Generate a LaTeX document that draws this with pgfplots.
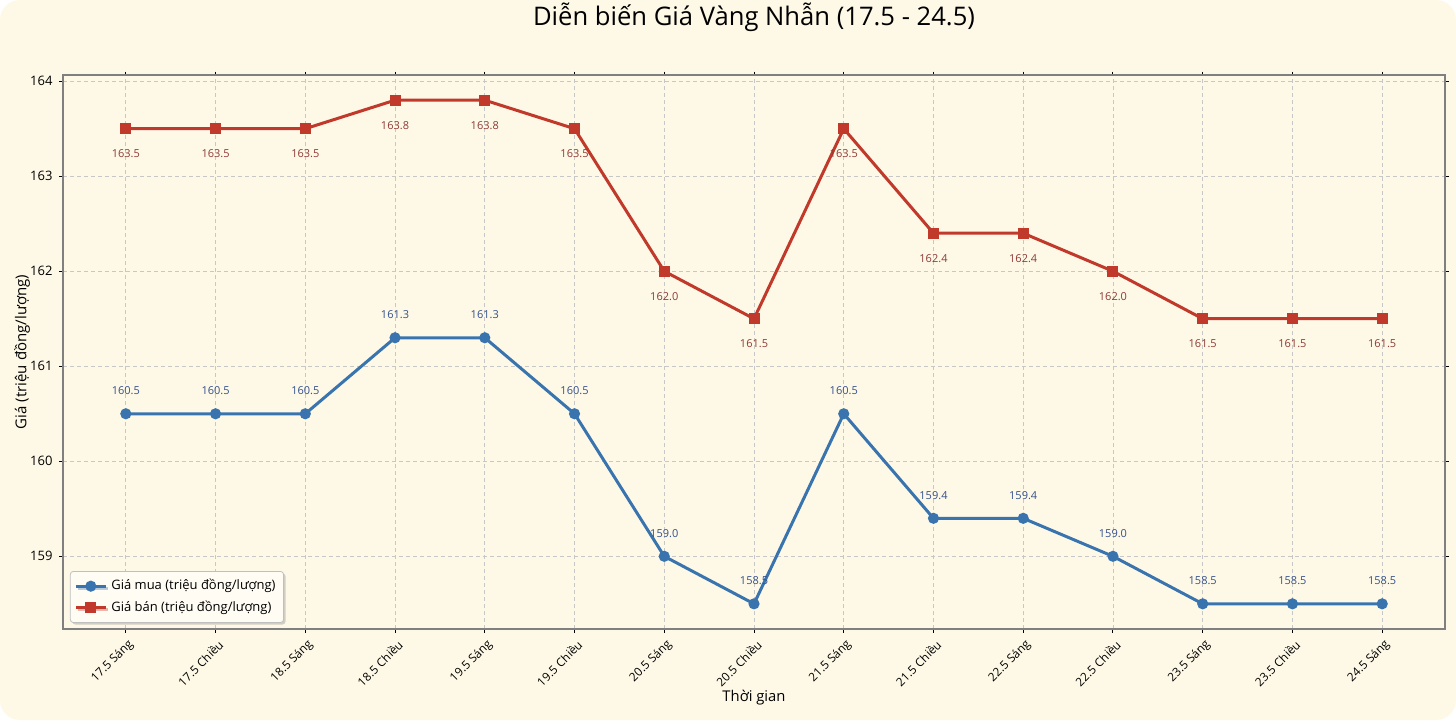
\documentclass[border=0pt]{standalone}
\usepackage{fontspec}
\setmainfont{Open Sans}
\usepackage{pgfplots}
\pgfplotsset{compat=1.18}
\usetikzlibrary{shadows}

\definecolor{bgc}{HTML}{FEF9E7}
\definecolor{sellc}{HTML}{C0392B}
\definecolor{sellt}{HTML}{8E3A35}
\definecolor{buyc}{HTML}{3A74AE}
\definecolor{buyt}{HTML}{34508C}

\pgfplotstableread{
x buy sell
0 160.5 163.5
1 160.5 163.5
2 160.5 163.5
3 161.3 163.8
4 161.3 163.8
5 160.5 163.5
6 159.0 162.0
7 158.5 161.5
8 160.5 163.5
9 159.4 162.4
10 159.4 162.4
11 159.0 162.0
12 158.5 161.5
13 158.5 161.5
14 158.5 161.5
}\prices

\begin{document}
\begin{tikzpicture}
\fill[white] (0,0) rectangle (728pt,360pt);
\fill[bgc, rounded corners=10pt] (0,0) rectangle (728pt,360pt);
\useasboundingbox (0,0) rectangle (728pt,360pt);
\begin{axis}[
    at={(31.5pt,45.5pt)}, anchor=south west,
    scale only axis,
    width=691pt, height=277pt,
    axis background/.style={fill=bgc},
    xmin=-0.7, xmax=14.7,
    ymin=158.235, ymax=164.065,
    xtick=data,
    xticklabels={17.5 Sáng,17.5 Chiều,18.5 Sáng,18.5 Chiều,19.5 Sáng,19.5 Chiều,20.5 Sáng,20.5 Chiều,21.5 Sáng,21.5 Chiều,22.5 Sáng,22.5 Chiều,23.5 Sáng,23.5 Chiều,24.5 Sáng},
    ytick={159,160,161,162,163,164},
    /pgf/number format/assume math mode=true,
    xticklabel style={rotate=45, anchor=east, inner sep=0pt, yshift=-5.5pt, xshift=-1.5pt, font=\fontsize{5.9}{7}\selectfont},
    yticklabel style={font=\fontsize{6.5}{8}\selectfont},
    tick align=outside,
    major tick length=1.75pt,
    tick style={black, line width=0.5pt},
    axis line style={draw=black!50, line width=0.6pt},
    grid=major,
    grid style={dash pattern=on 2pt off 1.5pt, black!22, line width=0.4pt},
    title={Diễn biến Giá Vàng Nhẫn (17.5 - 24.5)},
    every axis title/.style={at={(axis description cs:0.5,1.1047)}, anchor=center, font=\fontsize{12.8}{15}\selectfont},
    xlabel={Thời gian},
    every axis x label/.style={at={(axis description cs:0.5,-0.1245)}, anchor=center, font=\fontsize{7.4}{9}\selectfont},
    ylabel={Giá (triệu đồng/lượng)},
    every axis y label/.style={at={(axis description cs:-0.0297,0.5)}, anchor=center, rotate=90, font=\fontsize{7.5}{9}\selectfont},
    clip=false,
    legend style={at={(axis description cs:0.005,0.011)}, anchor=south west,
        draw=black!25, fill=white!55!bgc, rounded corners=1.5pt,
        drop shadow={opacity=0.35, shadow xshift=1pt, shadow yshift=-1pt},
        font=\fontsize{6.5}{7.5}\selectfont, row sep=0pt, inner sep=2pt},
    legend cell align=left,
    legend image code/.code={\draw[mark repeat=2,mark phase=2,#1] plot coordinates {(0pt,0pt) (7.5pt,0pt) (15pt,0pt)};},
    nodes near coords,
]
\addplot[buyc, line width=1.5pt, mark=*, mark size=2pt, mark options={solid},
    every node near coord/.append style={anchor=center, yshift=11.5pt, text=buyt,
      font=\fontsize{5.5}{6.5}\selectfont,
      /pgf/number format/fixed, /pgf/number format/fixed zerofill, /pgf/number format/precision=1}]
    table[x=x, y=buy] {\prices};
\addlegendentry{Giá mua (triệu đồng/lượng)}
\addplot[sellc, line width=1.5pt, mark=square*, mark size=2pt, mark options={solid},
    every node near coord/.append style={anchor=center, yshift=-12.5pt, text=sellt,
      font=\fontsize{5.5}{6.5}\selectfont,
      /pgf/number format/fixed, /pgf/number format/fixed zerofill, /pgf/number format/precision=1}]
    table[x=x, y=sell] {\prices};
\addlegendentry{Giá bán (triệu đồng/lượng)}
\end{axis}
\end{tikzpicture}
\end{document}
